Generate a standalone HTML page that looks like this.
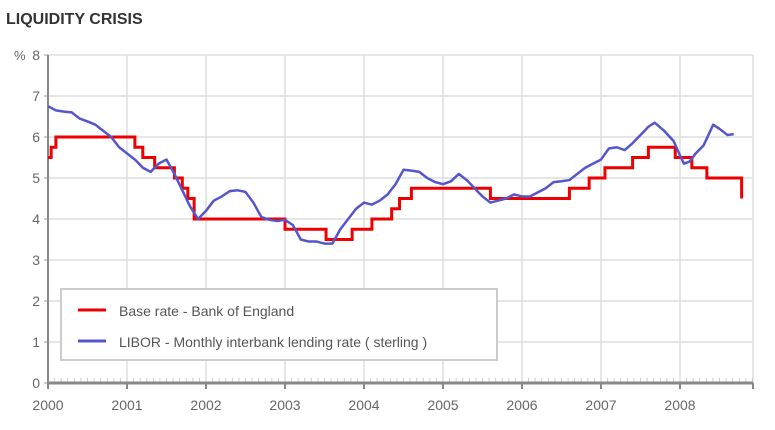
<!DOCTYPE html>
<html><head><meta charset="utf-8"><style>
body{margin:0;background:#fff;}
svg{display:block;font-family:"Liberation Sans",sans-serif;}
</style></head><body>
<svg id="chart" width="775" height="430">
<text x="6" y="24" font-size="16" font-weight="bold" fill="#333">LIQUIDITY CRISIS</text>
<g id="grid"></g><g id="axes"></g><g id="series"></g>
<g>
<rect x="61" y="289" width="436" height="71" fill="#fff" stroke="#ccc" stroke-width="2"/>
<line x1="78" y1="310" x2="106" y2="310" stroke="#e00" stroke-width="3"/>
<text x="119" y="316" font-size="14" fill="#555">Base rate - Bank of England</text>
<line x1="78" y1="341" x2="106" y2="341" stroke="#5555cc" stroke-width="3"/>
<text x="119" y="347" font-size="14" fill="#555">LIBOR - Monthly interbank lending rate ( sterling )</text>
</g>
</svg>
<script>
const yTicks=[0,1,2,3,4,5,6,7,8];
const xYears=[2000,2001,2002,2003,2004,2005,2006,2007,2008];
const baseX=[2000.0,2000.04,2000.1,2001.1,2001.2,2001.35,2001.6,2001.7,2001.77,2001.85,2003.0,2003.52,2003.85,2004.1,2004.35,2004.45,2004.6,2005.6,2006.6,2006.85,2007.05,2007.4,2007.6,2007.94,2008.15,2008.34,2008.78];
const baseY=[5.5,5.75,6.0,5.75,5.5,5.25,5.0,4.75,4.5,4.0,3.75,3.5,3.75,4.0,4.25,4.5,4.75,4.5,4.75,5.0,5.25,5.5,5.75,5.5,5.25,5.0,4.5];
const baseEnd=2008.78;
const liborX=[2000.0,2000.1,2000.2,2000.3,2000.4,2000.5,2000.6,2000.7,2000.8,2000.9,2001.0,2001.1,2001.2,2001.3,2001.4,2001.5,2001.6,2001.7,2001.8,2001.9,2002.0,2002.1,2002.2,2002.3,2002.4,2002.5,2002.6,2002.7,2002.8,2002.9,2003.0,2003.1,2003.2,2003.3,2003.4,2003.5,2003.6,2003.7,2003.8,2003.9,2004.0,2004.1,2004.2,2004.3,2004.4,2004.5,2004.6,2004.7,2004.8,2004.9,2005.0,2005.1,2005.2,2005.3,2005.4,2005.5,2005.6,2005.7,2005.8,2005.9,2006.0,2006.1,2006.2,2006.3,2006.4,2006.5,2006.6,2006.7,2006.8,2006.9,2007.0,2007.1,2007.2,2007.3,2007.4,2007.5,2007.6,2007.68,2007.8,2007.92,2008.0,2008.05,2008.12,2008.2,2008.3,2008.42,2008.5,2008.6,2008.68];
const liborY=[6.75,6.65,6.62,6.6,6.45,6.38,6.3,6.15,6.0,5.75,5.6,5.45,5.25,5.15,5.35,5.45,5.1,4.7,4.3,4.0,4.2,4.45,4.55,4.68,4.7,4.66,4.4,4.05,3.98,3.95,3.98,3.85,3.5,3.45,3.45,3.4,3.4,3.75,4.0,4.25,4.4,4.35,4.45,4.6,4.85,5.2,5.18,5.15,5.0,4.9,4.85,4.92,5.1,4.95,4.75,4.55,4.4,4.45,4.5,4.6,4.55,4.55,4.65,4.75,4.9,4.92,4.95,5.1,5.25,5.35,5.45,5.72,5.75,5.68,5.85,6.05,6.25,6.35,6.15,5.9,5.55,5.35,5.4,5.6,5.8,6.3,6.2,6.05,6.07];
const X0=48,X1=753,Y0=383,PX=79,PY=41;
const xs=v=>X0+(v-2000)*PX, ys=v=>Y0-v*PY;
const NS="http://www.w3.org/2000/svg";
function mk(t,a,p){const e=document.createElementNS(NS,t);for(const k in a)e.setAttribute(k,a[k]);p.appendChild(e);return e;}
const grid=document.getElementById('grid'),axes=document.getElementById('axes'),ser=document.getElementById('series');
yTicks.forEach(v=>{
 if(v>0){const l=mk('line',{x1:X0,x2:X1,y1:ys(v),y2:ys(v),stroke:'#ddd','stroke-width':1.5},grid);
 
 }
 mk('line',{x1:X0-4,x2:X0,y1:ys(v),y2:ys(v),stroke:'#999'},axes);
 const t=mk('text',{x:X0-8,y:ys(v)+5,'text-anchor':'end','font-size':14,fill:'#666'},axes);t.textContent=v;
 
 
});
const pct=mk('text',{x:14,y:60,'font-size':13,fill:'#666'},axes);pct.textContent='%';


xYears.forEach(v=>{
 if(v>2000){const l=mk('line',{x1:xs(v),x2:xs(v),y1:ys(8),y2:Y0,stroke:'#ddd','stroke-width':1.5},grid);
 
 }
 mk('line',{x1:xs(v),x2:xs(v),y1:Y0,y2:Y0+6,stroke:'#888','stroke-width':2},axes);
 const t=mk('text',{x:xs(v),y:Y0+27,'text-anchor':'middle','font-size':14,fill:'#666'},axes);t.textContent=v;
 
 
});
mk('line',{x1:X1,x2:X1,y1:ys(8),y2:Y0,stroke:'#ddd','stroke-width':1.5},grid);
for(let m=1;m<108;m++){if(m%12)mk('line',{x1:xs(2000+m/12),x2:xs(2000+m/12),y1:Y0-5,y2:Y0,stroke:'#ccc'},axes);}
mk('line',{x1:X1,x2:X1,y1:Y0,y2:Y0+6,stroke:'#888','stroke-width':2},axes);
const ya=mk('line',{x1:X0,x2:X0,y1:ys(8),y2:Y0,stroke:'#888','stroke-width':2},axes);


const xa=mk('line',{x1:X0,x2:X1,y1:Y0,y2:Y0,stroke:'#888','stroke-width':3},axes);


let d='';
baseX.forEach((x,i)=>{const nx=i<baseX.length-1?baseX[i+1]:baseEnd;
 d+=(i?'L':'M')+xs(x)+','+ys(baseY[i])+'L'+xs(nx)+','+ys(baseY[i]);});
const bp=mk('path',{d:d,fill:'none',stroke:'#ee0000','stroke-width':3},ser);


const lp=mk('path',{d:liborX.map((x,i)=>(i?'L':'M')+xs(x)+','+ys(liborY[i])).join(''),fill:'none',stroke:'#5555cc','stroke-width':2.5,'stroke-linejoin':'round'},ser);


</script>
</body></html>
